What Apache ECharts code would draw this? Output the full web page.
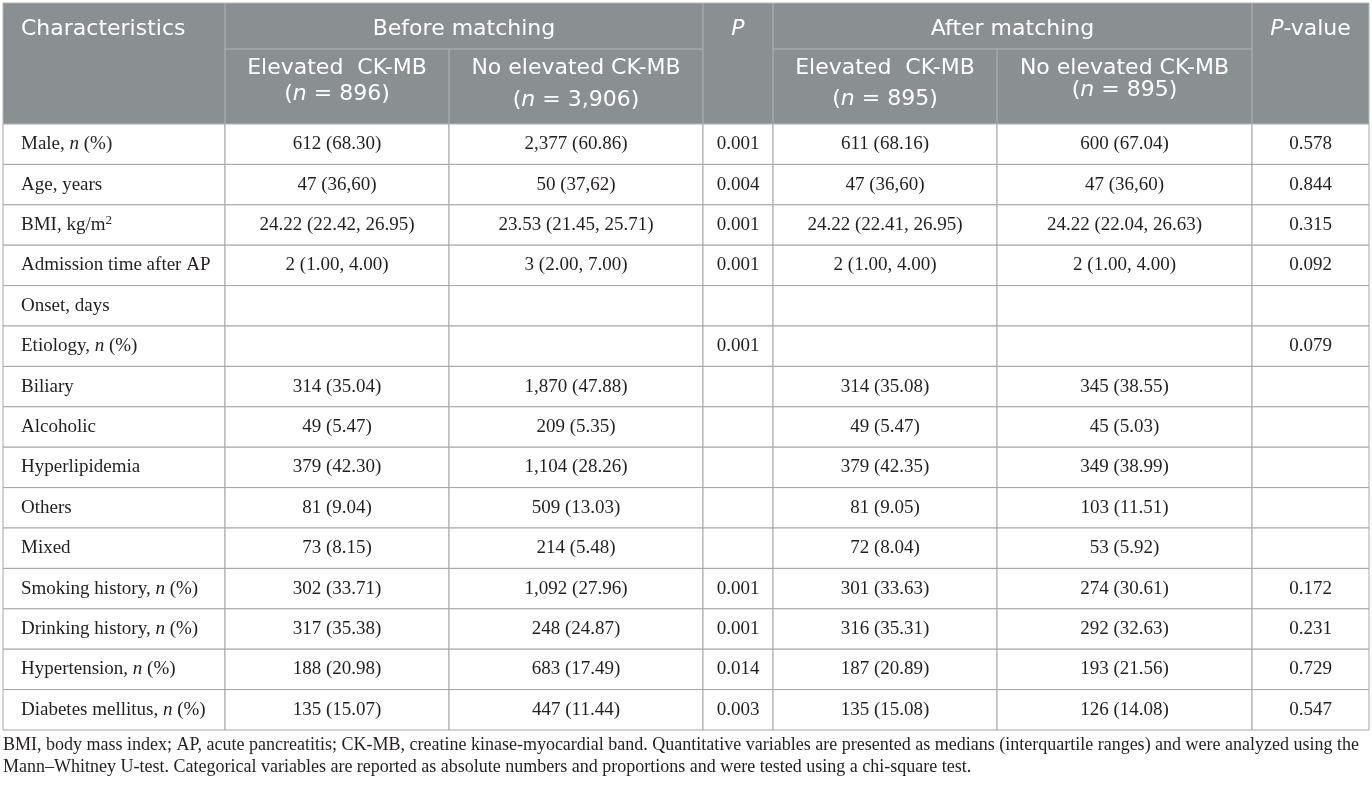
<!DOCTYPE html>
<html lang="en">
<head>
<meta charset="UTF-8" />
<title>Characteristics before and after matching</title>
<script src="https://cdn.jsdelivr.net/npm/echarts@6/dist/echarts.min.js"></script>
<style>
  html, body { margin: 0; padding: 0; background: #fff; }
</style>
</head>
<body>
<div id="main" style="width: 1372px; height: 786px"></div>
<script type="text/javascript">
  // table content
  const characteristics = [
    "Male, n (%)", "Age, years", "BMI, kg/m²", "Admission time after AP", "Onset, days",
    "Etiology, n (%)", "Biliary", "Alcoholic", "Hyperlipidemia", "Others", "Mixed",
    "Smoking history, n (%)", "Drinking history, n (%)", "Hypertension, n (%)", "Diabetes mellitus, n (%)"
  ];
  const beforeElevated = [
    "612 (68.30)", "47 (36,60)", "24.22 (22.42, 26.95)", "2 (1.00, 4.00)", "", "",
    "314 (35.04)", "49 (5.47)", "379 (42.30)", "81 (9.04)", "73 (8.15)",
    "302 (33.71)", "317 (35.38)", "188 (20.98)", "135 (15.07)"
  ];
  const beforeNoElevated = [
    "2,377 (60.86)", "50 (37,62)", "23.53 (21.45, 25.71)", "3 (2.00, 7.00)", "", "",
    "1,870 (47.88)", "209 (5.35)", "1,104 (28.26)", "509 (13.03)", "214 (5.48)",
    "1,092 (27.96)", "248 (24.87)", "683 (17.49)", "447 (11.44)"
  ];
  const pBefore = [
    "0.001", "0.004", "0.001", "0.001", "", "0.001", "", "", "", "", "",
    "0.001", "0.001", "0.014", "0.003"
  ];
  const afterElevated = [
    "611 (68.16)", "47 (36,60)", "24.22 (22.41, 26.95)", "2 (1.00, 4.00)", "", "",
    "314 (35.08)", "49 (5.47)", "379 (42.35)", "81 (9.05)", "72 (8.04)",
    "301 (33.63)", "316 (35.31)", "187 (20.89)", "135 (15.08)"
  ];
  const afterNoElevated = [
    "600 (67.04)", "47 (36,60)", "24.22 (22.04, 26.63)", "2 (1.00, 4.00)", "", "",
    "345 (38.55)", "45 (5.03)", "349 (38.99)", "103 (11.51)", "53 (5.92)",
    "274 (30.61)", "292 (32.63)", "193 (21.56)", "126 (14.08)"
  ];
  const pAfter = [
    "0.578", "0.844", "0.315", "0.092", "", "0.079", "", "", "", "", "",
    "0.172", "0.231", "0.729", "0.547"
  ];

  // header text ({i|..} = italic)
  const groupHeaders = ["Before matching", "After matching"];
  const subHeaders = [
    ["Elevated  CK-MB", "({i|n} = 896)"],
    ["No elevated CK-MB", "({i|n} = 3,906)"],
    ["Elevated  CK-MB", "({i|n} = 895)"],
    ["No elevated CK-MB", "({i|n} = 895)"]
  ];
  const footnote = [
    "BMI, body mass index; AP, acute pancreatitis; CK-MB, creatine kinase-myocardial band. Quantitative variables are presented as medians (interquartile ranges) and were analyzed using the",
    "Mann\u2013Whitney U-test. Categorical variables are reported as absolute numbers and proportions and were tested using a chi-square test."
  ];

  const columns = [characteristics, beforeElevated, beforeNoElevated, pBefore, afterElevated, afterNoElevated, pAfter];

  // layout
  const colEdges = [3, 225, 449, 703, 773, 997, 1252, 1369];
  const headTop = 3, headMid = 49, headBottom = 124, tableBottom = 730;
  const headFill = "#8a8f92";
  const headLine = "#b3b6b8";
  const bodyLine = "#a6a6a6";
  const ink = "#231f20";
  const serif = '"Liberation Serif", "Times New Roman", serif';
  const sans = '"DejaVu Sans", "Open Sans", sans-serif';
  const bodySize = 19;
  const headSize = 22;

  const serifRich = {
    i: { fontStyle: "italic", fontFamily: serif, fontSize: bodySize, fill: ink },
    s: { fontFamily: serif, fontSize: 13, fill: ink, padding: [0, 0, 9, 0] }
  };
  const sansRich = {
    i: { fontStyle: "italic", fontFamily: sans, fontSize: headSize, fill: "#fff" }
  };

  function markup(s) {
    return s.replace(", n (", ", {i|n} (").replace("²", "{s|2}");
  }

  function headText(text, x, y, align) {
    return {
      type: "text",
      silent: true,
      style: {
        text: text, x: x, y: y, textAlign: align || "center", verticalAlign: "middle",
        fontFamily: sans, fontSize: headSize, fill: "#fff", rich: sansRich
      }
    };
  }
  function hLine(x1, x2, y, color) {
    return { type: "line", silent: true, shape: { x1: x1, y1: y, x2: x2, y2: y }, style: { stroke: color, lineWidth: 1 } };
  }
  function vLine(x, y1, y2, color) {
    return { type: "line", silent: true, shape: { x1: x, y1: y1, x2: x, y2: y2 }, style: { stroke: color, lineWidth: 1 } };
  }

  // header graphic
  const header = [];
  header.push({
    type: "rect", silent: true,
    shape: { x: colEdges[0], y: headTop, width: colEdges[7] - colEdges[0], height: headBottom - headTop },
    style: { fill: headFill, stroke: headLine, lineWidth: 1 }
  });
  header.push(hLine(colEdges[1], colEdges[3], headMid, headLine));
  header.push(hLine(colEdges[4], colEdges[6], headMid, headLine));
  [1, 3, 4, 6].forEach(function (k) { header.push(vLine(colEdges[k], headTop, headBottom, headLine)); });
  [2, 5].forEach(function (k) { header.push(vLine(colEdges[k], headMid, headBottom, headLine)); });

  const row1Y = 29;
  header.push(headText("Characteristics", colEdges[0] + 18, row1Y, "left"));
  header.push(headText(groupHeaders[0], (colEdges[1] + colEdges[3]) / 2, row1Y));
  header.push(headText("{i|P}", (colEdges[3] + colEdges[4]) / 2, row1Y));
  header.push(headText(groupHeaders[1], (colEdges[4] + colEdges[6]) / 2, row1Y));
  header.push(headText("{i|P}-value", (colEdges[6] + colEdges[7]) / 2, row1Y));

  const subCols = [1, 2, 4, 5];
  const secondLineY = [94, 100, 99, 90];
  subHeaders.forEach(function (lines, k) {
    const c = subCols[k];
    const cx = (colEdges[c] + colEdges[c + 1]) / 2;
    header.push(headText(lines[0], cx, 68));
    header.push(headText(lines[1], cx, secondLineY[k]));
  });

  footnote.forEach(function (t, k) {
    header.push({
      type: "text", silent: true,
      style: {
        text: t, x: colEdges[0], y: 745 + k * 22, verticalAlign: "middle",
        fontFamily: serif, fontSize: 18, fill: ink
      }
    });
  });

  function renderRow(params, api) {
    const i = api.value(1);
    const h = api.size([0, 1])[1];
    const cy = api.coord([colEdges[0], i])[1];
    const top = cy - h / 2;
    const children = [];
    for (let j = 0; j < columns.length; j++) {
      const x0 = api.coord([colEdges[j], i])[0];
      const x1 = api.coord([colEdges[j + 1], i])[0];
      children.push({
        type: "rect",
        shape: { x: x0, y: top, width: x1 - x0, height: h },
        style: { fill: "#fff", stroke: bodyLine, lineWidth: 1 }
      });
      const txt = j === 0 ? markup(columns[j][i]) : columns[j][i];
      children.push({
        type: "text",
        style: {
          text: txt,
          x: j === 0 ? x0 + 18 : (x0 + x1) / 2,
          y: cy,
          textAlign: j === 0 ? "left" : "center",
          verticalAlign: "middle",
          fontFamily: serif, fontSize: bodySize, fill: ink,
          rich: serifRich
        }
      });
    }
    return { type: "group", children: children };
  }

  var chartDom = document.getElementById("main");
  var myChart = echarts.init(chartDom);
  var option;

  option = {
    animation: false,
    backgroundColor: "#fff",
    grid: { left: colEdges[0], right: 1372 - colEdges[7], top: headBottom, bottom: 786 - tableBottom },
    xAxis: { type: "value", min: colEdges[0], max: colEdges[7], show: false },
    yAxis: { type: "category", data: characteristics, inverse: true, show: false },
    graphic: { elements: header },
    series: [
      {
        type: "custom",
        clip: false,
        renderItem: renderRow,
        encode: { x: 0, y: 1 },
        data: characteristics.map(function (c, i) { return [colEdges[0], i]; })
      }
    ]
  };

  option && myChart.setOption(option);
</script>
</body>
</html>
